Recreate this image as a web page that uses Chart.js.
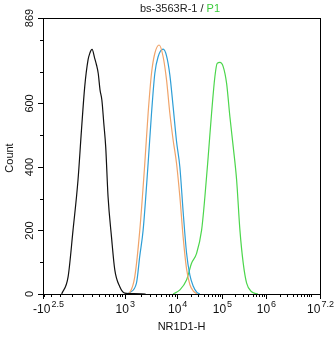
<!DOCTYPE html>
<html>
<head>
<meta charset="utf-8">
<script src="https://cdn.jsdelivr.net/npm/chart.js@4"></script>
<style>
  html, body { margin: 0; padding: 0; background: #fff; }
  canvas { display: block; }
</style>
</head>
<body>
<canvas id="myChart" width="334" height="337"></canvas>
<script>
// histogram curves: intensity (NR1D1-H) and event count
const blackIntensity  = [-88, -30, 13, 57, 89, 121, 156, 176, 203, 237, 262, 287, 316, 347, 380, 418, 468, 549, 639, 800, 1000, 1500, 2500];
const blackCount      = [0, 54, 201, 359, 516, 653, 737, 758, 770, 742, 721, 695, 642, 610, 540, 464, 306, 180, 76, 23, 3, 1, 0];

const orangeIntensity = [1100, 1250, 1550, 1935, 2410, 2790, 3240, 3750, 4530, 5400, 6270, 7250, 8380, 9740, 11500, 13600, 16200, 19200, 22800, 27600];
const orangeCount     = [0, 5, 54, 201, 411, 569, 695, 758, 784, 747, 674, 569, 485, 411, 306, 180, 80, 30, 10, 0];

const blueIntensity   = [1080, 1250, 1670, 1935, 2240, 2790, 3240, 3750, 4330, 5400, 6270, 7250, 8380, 9740, 11500, 13600, 16200, 19200, 22800, 27600, 32200];
const blueCount       = [0, 5, 34, 120, 201, 411, 569, 695, 747, 771, 750, 690, 590, 480, 400, 260, 130, 60, 25, 5, 0];

const greenIntensity  = [8380, 11500, 16200, 21000, 27200, 35200, 41700, 49400, 58800, 69700, 78500, 90200, 107000, 127900, 152000, 180600, 215900, 256600, 304900, 364200, 473200, 658000];
const greenCount      = [0, 13, 44, 97, 128, 201, 306, 432, 569, 684, 726, 729, 716, 663, 558, 464, 359, 201, 97, 34, 7, 0];

// axis ticks
const yMajorTicks = [0, 200, 400, 600, 869];
const yMinorTicks = [100, 300, 500, 700, 800];
const xMajorTicks = [-Math.pow(10, 2.5), 1e3, 1e4, 1e5, 1e6, Math.pow(10, 7.2)];
const xTickBase   = ['-10', '10', '10', '10', '10', '10'];
const xTickExp    = ['2.5', '3', '4', '5', '6', '7.2'];

const titleMain = 'bs-3563R-1 / ';
const titleGate = 'P1';

// logicle-ish display: asinh part below 10^3, log decades above
const X_MIN = -Math.pow(10, 2.5);
const X_MAX = Math.pow(10, 7.2);
const LOW_SPAN = 81.7;
const DECADE_SPAN = [52.3, 44.7, 44.0, 45.0];
const TOTAL_SPAN = LOW_SPAN + DECADE_SPAN[0] + DECADE_SPAN[1] + DECADE_SPAN[2] + 1.2 * DECADE_SPAN[3];
const ASINH_W = 200;

function logicleFrac(v) {
  let pos;
  if (v <= 1000) {
    const k = LOW_SPAN / (Math.asinh(1000 / ASINH_W) - Math.asinh(X_MIN / ASINH_W));
    pos = LOW_SPAN - k * (Math.asinh(1000 / ASINH_W) - Math.asinh(v / ASINH_W));
  } else {
    const L = Math.log10(v);
    pos = LOW_SPAN;
    for (let d = 3; ; d++) {
      const w = DECADE_SPAN[Math.min(d - 3, 3)];
      if (L < d + 1 || d >= 6) { pos += (L - d) * w; break; }
      pos += w;
    }
  }
  return pos / TOTAL_SPAN;
}

class LogicleScale extends Chart.LinearScale {
  static id = 'logicle';
  static defaults = {};
  getPixelForValue(value) {
    return this.getPixelForDecimal(logicleFrac(value));
  }
  getValueForPixel(pixel) {
    const f = this.getDecimalForPixel(pixel);
    let lo = X_MIN, hi = X_MAX;
    for (let i = 0; i < 60; i++) {
      const mid = lo < 1000 ? (lo + hi) / 2 : Math.sqrt(lo * hi);
      if (logicleFrac(mid) < f) lo = mid; else hi = mid;
    }
    return lo;
  }
}
Chart.register(LogicleScale);

function xMinorTicks() {
  const t = [-300, -200, -100, 0, 100, 200, 300, 400, 500, 600, 700, 800, 900];
  for (let d = 3; d <= 6; d++) {
    for (let m = 2; m <= 9; m++) t.push(m * Math.pow(10, d));
  }
  t.push(1e7);
  return t;
}

const toPoints = (xs, ys) => xs.map((x, i) => ({x: x, y: ys[i]}));

const data = {
  datasets: [
    { label: 'control', data: toPoints(blackIntensity, blackCount), borderColor: '#111111' },
    { label: 'isotype', data: toPoints(orangeIntensity, orangeCount), borderColor: '#F0A46A' },
    { label: 'blank', data: toPoints(blueIntensity, blueCount), borderColor: '#2E9ED6' },
    { label: 'P1', data: toPoints(greenIntensity, greenCount), borderColor: '#4CD64C' }
  ]
};

const axesPlugin = {
  id: 'flowAxes',
  afterDraw(chart) {
    const {ctx, chartArea: {top, bottom, left, right}, scales: {x, y}} = chart;
    ctx.save();
    ctx.strokeStyle = '#000';
    ctx.lineWidth = 1;
    ctx.strokeRect(Math.round(left) + 0.5, Math.round(top) + 0.5, Math.round(right - left), Math.round(bottom - top));

    // y ticks
    ctx.beginPath();
    yMajorTicks.forEach(v => {
      const py = Math.round(y.getPixelForValue(v)) + 0.5;
      ctx.moveTo(left - 5, py); ctx.lineTo(left, py);
    });
    yMinorTicks.forEach(v => {
      const py = Math.round(y.getPixelForValue(v)) + 0.5;
      ctx.moveTo(left - 3, py); ctx.lineTo(left, py);
    });
    // x ticks
    xMajorTicks.forEach(v => {
      const px = Math.round(x.getPixelForValue(v)) + 0.5;
      ctx.moveTo(px, bottom); ctx.lineTo(px, bottom + 5);
    });
    xMinorTicks().forEach(v => {
      const px = Math.round(x.getPixelForValue(v)) + 0.5;
      ctx.moveTo(px, bottom); ctx.lineTo(px, bottom + 3);
    });
    ctx.stroke();

    ctx.fillStyle = '#111';
    // y tick labels, rotated
    ctx.font = '11px "Liberation Sans", Arial, sans-serif';
    ctx.textAlign = 'center';
    ctx.textBaseline = 'middle';
    yMajorTicks.forEach(v => {
      ctx.save();
      ctx.translate(30, y.getPixelForValue(v));
      ctx.rotate(-Math.PI / 2);
      ctx.fillText(String(v), 0, 0);
      ctx.restore();
    });
    // y title
    ctx.save();
    ctx.translate(10, (top + bottom) / 2 + 2);
    ctx.rotate(-Math.PI / 2);
    ctx.fillText('Count', 0, 0);
    ctx.restore();

    // x tick labels with exponents
    ctx.textAlign = 'left';
    ctx.textBaseline = 'alphabetic';
    const baseFont = '12px "Liberation Sans", Arial, sans-serif';
    const expFont = '9px "Liberation Sans", Arial, sans-serif';
    xMajorTicks.forEach((v, i) => {
      ctx.font = baseFont;
      const wb = ctx.measureText(xTickBase[i]).width;
      ctx.font = expFont;
      const we = ctx.measureText(xTickExp[i]).width;
      let cx = x.getPixelForValue(v);
      if (i === 0) cx += 5;
      const sx = cx - (wb + we) / 2;
      ctx.font = baseFont;
      ctx.fillText(xTickBase[i], sx, 313);
      ctx.font = expFont;
      ctx.fillText(xTickExp[i], sx + wb + 1, 307);
    });

    // x title
    ctx.font = '11px "Liberation Sans", Arial, sans-serif';
    ctx.textAlign = 'center';
    ctx.fillText('NR1D1-H', (left + right) / 2, 330);

    // chart title, gate name in green
    ctx.textAlign = 'left';
    const w1 = ctx.measureText(titleMain).width;
    const w2 = ctx.measureText(titleGate).width;
    const tx = 180 - (w1 + w2) / 2;
    ctx.fillStyle = '#222';
    ctx.fillText(titleMain, tx, 12);
    ctx.fillStyle = '#3CCB3C';
    ctx.fillText(titleGate, tx + w1, 12);
    ctx.restore();
  }
};

const config = {
  type: 'line',
  data,
  options: {
    responsive: false,
    animation: false,
    layout: { padding: { left: 43, top: 18, right: 14, bottom: 43 } },
    elements: {
      point: { radius: 0 },
      line: { borderWidth: 1.2, cubicInterpolationMode: 'monotone', fill: false }
    },
    plugins: { legend: { display: false }, title: { display: false }, tooltip: { enabled: false } },
    scales: {
      x: { type: 'logicle', min: X_MIN, max: X_MAX, display: false },
      y: { type: 'linear', min: 0, max: 869, display: false }
    }
  },
  plugins: [axesPlugin]
};

const myChart = new Chart(document.getElementById('myChart'), config);
</script>
</body>
</html>
